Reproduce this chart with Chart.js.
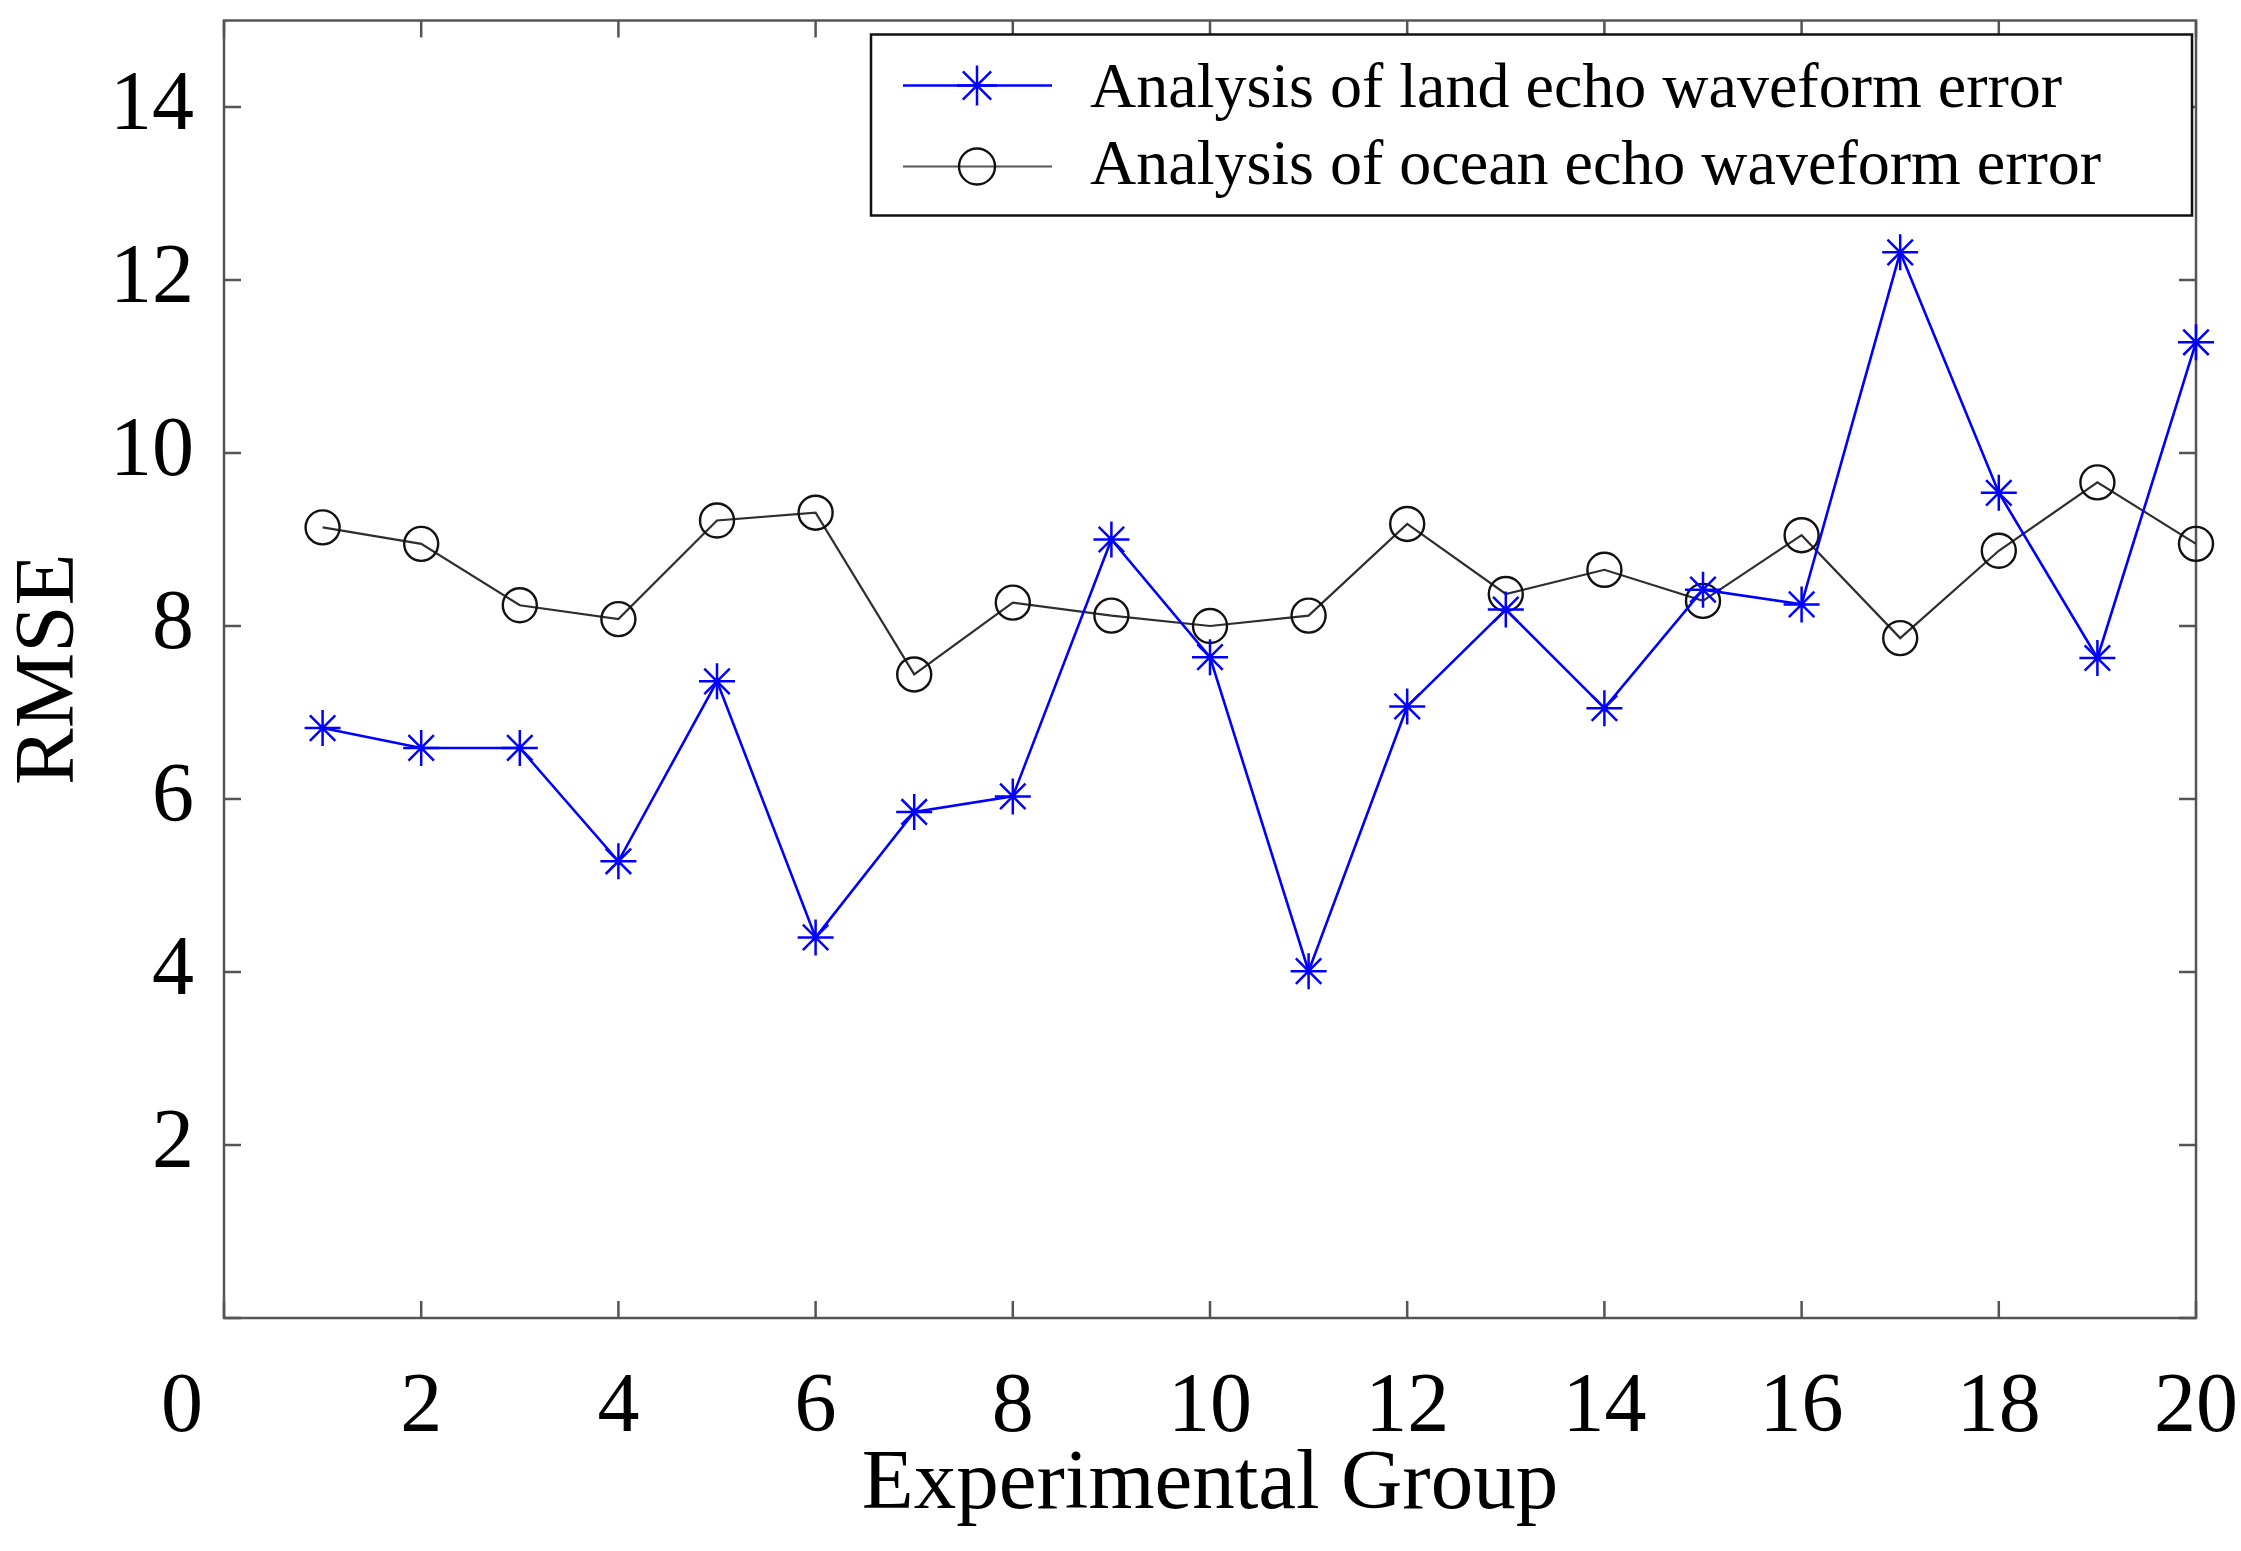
<!DOCTYPE html>
<html>
<head>
<meta charset="utf-8">
<title>RMSE of land and ocean echo waveform analysis</title>
<script src="https://cdn.jsdelivr.net/npm/chart.js@4.4.1/dist/chart.umd.min.js"></script>
<style>
  html, body { margin: 0; padding: 0; background: #fff; }
  #wrap { width: 2241px; height: 1551px; position: relative; }
</style>
</head>
<body>
<div id="wrap"><canvas id="chart"></canvas></div>
<script>
// values
const groups    = [1, 2, 3, 4, 5, 6, 7, 8, 9, 10, 11, 12, 13, 14, 15, 16, 17, 18, 19, 20];
const landRmse  = [6.82, 6.59, 6.59, 5.28, 7.36, 4.40, 5.85, 6.03, 9.00, 7.64, 4.01, 7.07, 8.19, 7.05, 8.42, 8.25, 12.32, 9.54, 7.63, 11.28];
const oceanRmse = [9.14, 8.95, 8.24, 8.08, 9.22, 9.31, 7.44, 8.27, 8.12, 8.00, 8.12, 9.18, 8.37, 8.65, 8.29, 9.05, 7.86, 8.87, 9.66, 8.95];
const xTickValues = [0, 2, 4, 6, 8, 10, 12, 14, 16, 18, 20];
const yTickValues = [0, 2, 4, 6, 8, 10, 12, 14];
const seriesNames = ["Analysis of land echo waveform error", "Analysis of ocean echo waveform error"];

const FONT = '"Liberation Serif", "Times New Roman", serif';

// box round the plot with inward ticks on all four sides
const matlabFrame = {
    id: "matlabFrame",
    beforeDatasetsDraw(chart, args, o) {
        const {ctx, chartArea: a, scales: {x, y}} = chart;
        ctx.save();
        ctx.strokeStyle = o.color;
        ctx.lineWidth = o.lineWidth;
        ctx.beginPath();
        x.ticks.forEach(t => {
            const px = x.getPixelForValue(t.value);
            ctx.moveTo(px, a.bottom); ctx.lineTo(px, a.bottom - o.tickLength);
            ctx.moveTo(px, a.top); ctx.lineTo(px, a.top + o.tickLength);
        });
        y.ticks.forEach(t => {
            const py = y.getPixelForValue(t.value);
            ctx.moveTo(a.left, py); ctx.lineTo(a.left + o.tickLength, py);
            ctx.moveTo(a.right, py); ctx.lineTo(a.right - o.tickLength, py);
        });
        ctx.stroke();
        ctx.strokeRect(a.left, a.top, a.right - a.left, a.bottom - a.top);
        ctx.restore();
    }
};

// legend in a framed box, line sample with marker in the middle
const boxLegend = {
    id: "boxLegend",
    afterDatasetsDraw(chart, args, o) {
        const {ctx, chartArea: a} = chart;
        const left = a.right - o.right - o.width;
        const top = a.top + o.top;
        ctx.save();
        ctx.fillStyle = "#fff";
        ctx.fillRect(left, top, o.width, o.height);
        ctx.strokeStyle = o.borderColor;
        ctx.lineWidth = o.borderWidth;
        ctx.strokeRect(left, top, o.width, o.height);
        chart.data.datasets.forEach((ds, i) => {
            const cy = top + o.rowY[i];
            ctx.strokeStyle = o.lineColors[i];
            ctx.lineWidth = ds.borderWidth;
            ctx.beginPath();
            ctx.moveTo(left + o.lineStart, cy);
            ctx.lineTo(left + o.lineEnd, cy);
            ctx.stroke();
            ctx.strokeStyle = ds.pointBorderColor;
            ctx.fillStyle = "rgba(0,0,0,0)";
            ctx.lineWidth = ds.pointBorderWidth;
            Chart.helpers.drawPoint(ctx, {
                pointStyle: ds.pointStyle, radius: o.markerRadius[i],
                borderWidth: ds.pointBorderWidth, rotation: 0
            }, left + o.markerX, cy);
            ctx.fillStyle = o.color;
            ctx.font = o.font;
            ctx.textAlign = "left";
            ctx.textBaseline = "alphabetic";
            ctx.fillText(ds.label, left + o.textX, top + o.textBase[i]);
        });
        ctx.restore();
    }
};

new Chart(document.getElementById("chart"), {
    type: "line",
    data: {
        datasets: [
            {
                label: seriesNames[0],
                data: groups.map((g, i) => ({x: g, y: landRmse[i]})),
                borderColor: "#0000ff", borderWidth: 2.6,
                pointStyle: "star", pointRadius: 18, pointHoverRadius: 18,
                pointBorderColor: "#0000ff", pointBorderWidth: 2.5,
                pointBackgroundColor: "rgba(0,0,0,0)",
                tension: 0, clip: false
            },
            {
                label: seriesNames[1],
                data: groups.map((g, i) => ({x: g, y: oceanRmse[i]})),
                borderColor: "#2e2e2e", borderWidth: 2.2,
                pointStyle: "circle", pointRadius: 17, pointHoverRadius: 17,
                pointBorderColor: "#111", pointBorderWidth: 2.4,
                pointBackgroundColor: "rgba(0,0,0,0)",
                tension: 0, clip: false
            }
        ]
    },
    options: {
        responsive: true,
        maintainAspectRatio: false,
        animation: false,
        events: [],
        layout: { padding: { top: 17, right: 45, left: 0, bottom: 0 } },
        scales: {
            x: {
                type: "linear", min: 0, max: 20,
                afterBuildTicks: s => { s.ticks = xTickValues.map(v => ({value: v})); },
                afterFit: s => { s.height = 233; s.paddingLeft = 0; s.paddingRight = 0; },
                grid: { display: false },
                border: { display: false },
                ticks: {
                    autoSkip: false, maxRotation: 0, padding: 33, color: "#000",
                    font: { family: FONT, size: 84 },
                    callback: v => v === 0 ? "0    " : String(v)
                },
                title: {
                    display: true, text: "Experimental Group", color: "#000",
                    font: { family: FONT, size: 85 },
                    padding: { top: 0, bottom: 14 }
                }
            },
            y: {
                type: "linear", min: 0, max: 15,
                afterBuildTicks: s => { s.ticks = yTickValues.map(v => ({value: v})); },
                afterFit: s => { s.width = 224; s.paddingTop = 0; s.paddingBottom = 0; },
                grid: { display: false },
                border: { display: false },
                ticks: {
                    padding: 22, color: "#000",
                    font: { family: FONT, size: 84 },
                    callback: v => v === 0 ? "" : String(v)
                },
                title: {
                    display: true, text: "RMSE", color: "#000",
                    font: { family: FONT, size: 85 },
                    padding: { top: 0, bottom: 0 }
                }
            }
        },
        plugins: {
            legend: { display: false },
            tooltip: { enabled: false },
            matlabFrame: { color: "#555", lineWidth: 2.5, tickLength: 17 },
            boxLegend: {
                right: 4, top: 14, width: 1321, height: 181,
                borderColor: "#111", borderWidth: 2.5,
                rowY: [51, 132], textBase: [72, 149],
                lineStart: 32, lineEnd: 181, markerX: 106, textX: 219,
                markerRadius: [20, 18],
                lineColors: ["#0000ff", "#555"],
                color: "#000", font: "64px " + FONT
            }
        }
    },
    plugins: [matlabFrame, boxLegend]
});
</script>
</body>
</html>
